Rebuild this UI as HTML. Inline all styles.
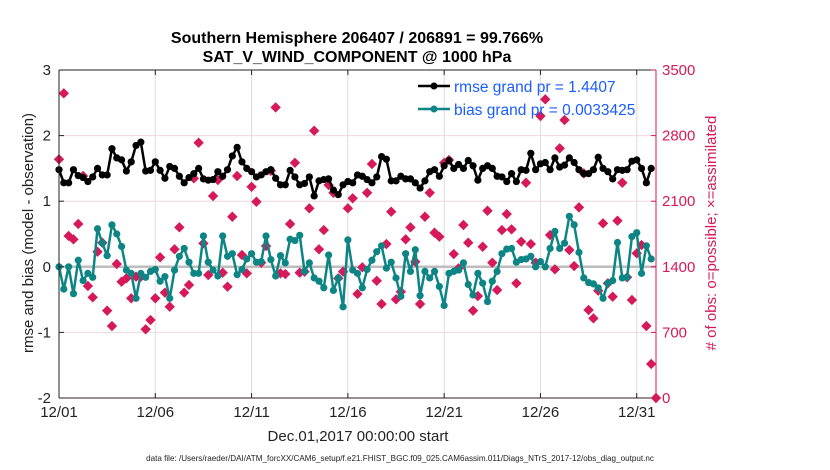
<!DOCTYPE html>
<html><head><meta charset="utf-8"><style>
html,body{margin:0;padding:0;background:#fff;}
svg{display:block;font-family:"Liberation Sans",Arial,sans-serif;}
</style></head><body>
<svg id="chart" width="830" height="470" viewBox="0 0 830 470">
<text x="357" y="43" text-anchor="middle" font-size="16" font-weight="bold">Southern Hemisphere 206407 / 206891 = 99.766%</text>
<text x="357" y="62" text-anchor="middle" font-size="16" font-weight="bold">SAT_V_WIND_COMPONENT @ 1000 hPa</text>
<g id="grid"></g>
<g id="plot"></g>
<g id="axes"></g>
<text transform="translate(33,233) rotate(-90)" text-anchor="middle" font-size="15" fill="#222">rmse and bias (model - observation)</text>
<text transform="translate(716,233) rotate(-90)" text-anchor="middle" font-size="15" fill="#d6195a"># of obs: o=possible; ×=assimilated</text>
<text x="358" y="441" text-anchor="middle" font-size="15" fill="#222">Dec.01,2017 00:00:00 start</text>
<text x="400" y="461" text-anchor="middle" font-size="8.1" fill="#222">data file: /Users/raeder/DAI/ATM_forcXX/CAM6_setup/f.e21.FHIST_BGC.f09_025.CAM6assim.011/Diags_NTrS_2017-12/obs_diag_output.nc</text>
<g>
<g>
<line x1="418" y1="86" x2="450" y2="86" stroke="#000" stroke-width="2.5"/>
<circle cx="434" cy="86" r="3.5" fill="#000"/>
<text x="454" y="92" font-size="15.5" fill="#1a5cff">rmse grand pr = 1.4407</text>
</g>
<g>
<line x1="418" y1="109" x2="450" y2="109" stroke="#0d8585" stroke-width="2.5"/>
<circle cx="434" cy="109" r="3.5" fill="#0d8585"/>
<text x="454" y="115" font-size="15.5" fill="#1a5cff">bias grand pr = 0.0033425</text>
</g>
</g>
</svg>
<script>
const rmse = [1.48,1.28,1.28,1.48,1.39,1.36,1.3,1.37,1.5,1.4,1.4,1.8,1.66,1.63,1.46,1.6,1.85,1.9,1.46,1.47,1.6,1.47,1.35,1.53,1.5,1.38,1.28,1.36,1.42,1.5,1.34,1.32,
1.33,1.45,1.38,1.48,1.69,1.82,1.6,1.5,1.45,1.37,1.4,1.45,1.48,1.35,1.25,1.25,1.47,1.37,1.25,1.27,1.37,1.08,1.31,1.33,1.34,1.17,1.1,1.25,1.3,1.28,1.4,
1.38,1.33,1.28,1.37,1.68,1.64,1.31,1.31,1.38,1.34,1.34,1.28,1.2,1.31,1.45,1.48,1.38,1.54,1.62,1.5,1.56,1.5,1.62,1.54,1.32,1.5,1.54,1.5,1.38,1.37,1.3,
1.42,1.3,1.48,1.47,1.73,1.48,1.57,1.59,1.48,1.66,1.52,1.55,1.66,1.59,1.48,1.42,1.42,1.48,1.67,1.5,1.45,1.34,1.48,1.47,1.48,1.61,1.63,1.5,1.28,1.5];
const bias = [0,-.34,0,-.41,.1,-.21,-.1,-.16,.58,.36,.17,.64,.5,.31,-.05,-.1,-.48,-.1,-.16,-.07,-.04,-.22,-.15,-.48,-.05,.16,.28,.07,-.1,-.1,.47,.07,
-.05,-.14,.47,.16,.2,-.12,-.04,.12,.2,.07,.08,.47,.11,-.14,.17,.06,.42,.4,.48,-.07,.06,-.17,-.22,-.32,.18,-.36,-.17,-.61,.41,-.05,-.1,
-.32,-.04,.1,.23,.32,-.02,.07,-.17,-.45,.2,-.07,.26,-.44,-.07,-.17,-.07,-.3,-.59,-.1,-.07,-.05,.06,-.27,-.43,-.1,-.25,-.53,-.22,-.07,.2,.27,
.28,.07,.11,.12,.16,0,.08,0,.28,.54,.28,.36,.77,.64,.22,-.17,-.24,-.26,-.32,-.48,-.25,-.21,.37,-.17,-.16,.46,.52,-.1,.32,.12];
const counts = [2547,3251,1729,1693,1857,2369,1195,1074,1561,1657,932,768,1430,1241,1277,1064,1295,1295,733,832,1064,1501,1124,974,1587,1821,1124,1206,2344,2724,1650,1312,
2155,2326,1337,1188,1934,2369,1526,1330,2254,2094,1444,1622,2425,3101,1330,1323,1857,2510,1337,1348,2024,2852,1587,1792,2273,2190,1277,1348,2024,2131,1110,
1394,2190,2497,1251,1003,1643,1988,1053,1134,1693,1821,1454,1003,1934,2190,1764,1721,2510,2539,1536,1384,1846,1657,932,1088,1614,1998,1444,1152,1792,1963,
1800,1224,1668,2297,1643,1444,3009,3187,1739,1373,2664,2966,1579,1408,2034,2397,939,850,1145,1864,1224,1081,1892,2297,1288,1046,1544,1632,768,363,0];
const xTickDays = [0,5,10,15,20,25,30];
const xTickLabels = ["12/01","12/06","12/11","12/16","12/21","12/26","12/31"];
const yTicksLeft = [-2,-1,0,1,2,3];
const yTicksRight = [0,700,1400,2100,2800,3500];
const stepDays = 0.25;

const L=59,R=656,T=70,B=398;
const xs = d => L + d*(R-L)/31;
const yl = v => B - (v+2)*(B-T)/5;
const yr = v => B - v*(B-T)/3500;
const NS="http://www.w3.org/2000/svg";
function mk(parent,tag,attrs){const e=document.createElementNS(NS,tag);for(const k in attrs)e.setAttribute(k,attrs[k]);parent.appendChild(e);return e;}
const grid=document.getElementById('grid'), plot=document.getElementById('plot'), axes=document.getElementById('axes');

mk(grid,'rect',{x:L,y:T,width:R-L,height:B-T,fill:'#fff'});
xTickDays.forEach(d=>{const g=mk(grid,'line',{x1:xs(d),x2:xs(d),y1:T,y2:B,stroke:'#dcdcdc','stroke-width':1});

});
yTicksRight.forEach(v=>{const g=mk(grid,'line',{x1:L,x2:R,y1:yr(v),y2:yr(v),stroke:'#f0d6df','stroke-width':1});

});
const z=mk(plot,'line',{x1:L,x2:R,y1:yl(0),y2:yl(0),stroke:'#bdbdbd','stroke-width':2.5});



counts.forEach((c,i)=>{const x=xs(i*stepDays),y=yr(c),s=5.2;
const p=mk(plot,'path',{d:`M${x},${y-s}L${x+s},${y}L${x},${y+s}L${x-s},${y}Z`,fill:'#d6195a'});

});

function series(vals,color,name){
  const pts=vals.map((v,i)=>`${xs(i*stepDays).toFixed(2)},${yl(v).toFixed(2)}`).join(' ');
  const pl=mk(plot,'polyline',{points:pts,fill:'none',stroke:color,'stroke-width':2.5,'stroke-linejoin':'round'});
  
  
  vals.forEach((v,i)=>{const c=mk(plot,'circle',{cx:xs(i*stepDays),cy:yl(v),r:3.6,fill:color});
  
  });
}
series(rmse,'#000','rmse');
series(bias,'#0d8585','bias');

mk(axes,'line',{x1:L,x2:R,y1:T,y2:T,stroke:'#222','stroke-width':1});
mk(axes,'line',{x1:L,x2:R,y1:B,y2:B,stroke:'#3a1f25','stroke-width':1});
mk(axes,'line',{x1:L,x2:L,y1:T,y2:B,stroke:'#222','stroke-width':1});
mk(axes,'line',{x1:R,x2:R,y1:T,y2:B,stroke:'#d6195a','stroke-width':1});
xTickDays.forEach((d,i)=>{
  mk(axes,'line',{x1:xs(d),x2:xs(d),y1:B,y2:B-5,stroke:'#222'});
  mk(axes,'line',{x1:xs(d),x2:xs(d),y1:T,y2:T+5,stroke:'#222'});
  const t=mk(axes,'text',{x:xs(d),y:B+19,'text-anchor':'middle','font-size':15,fill:'#222'});
  t.textContent=xTickLabels[i];
  
  
});
yTicksLeft.forEach(v=>{
  mk(axes,'line',{x1:L,x2:L+5,y1:yl(v),y2:yl(v),stroke:'#222'});
  const t=mk(axes,'text',{x:L-8,y:yl(v)+5,'text-anchor':'end','font-size':15,fill:'#222'});
  t.textContent=String(v);
  
  
});
yTicksRight.forEach(v=>{
  mk(axes,'line',{x1:R-5,x2:R,y1:yr(v),y2:yr(v),stroke:'#d6195a'});
  const t=mk(axes,'text',{x:R+6,y:yr(v)+5,'font-size':15,fill:'#d6195a'});
  t.textContent=String(v);
  
  
});
</script>
</body></html>
